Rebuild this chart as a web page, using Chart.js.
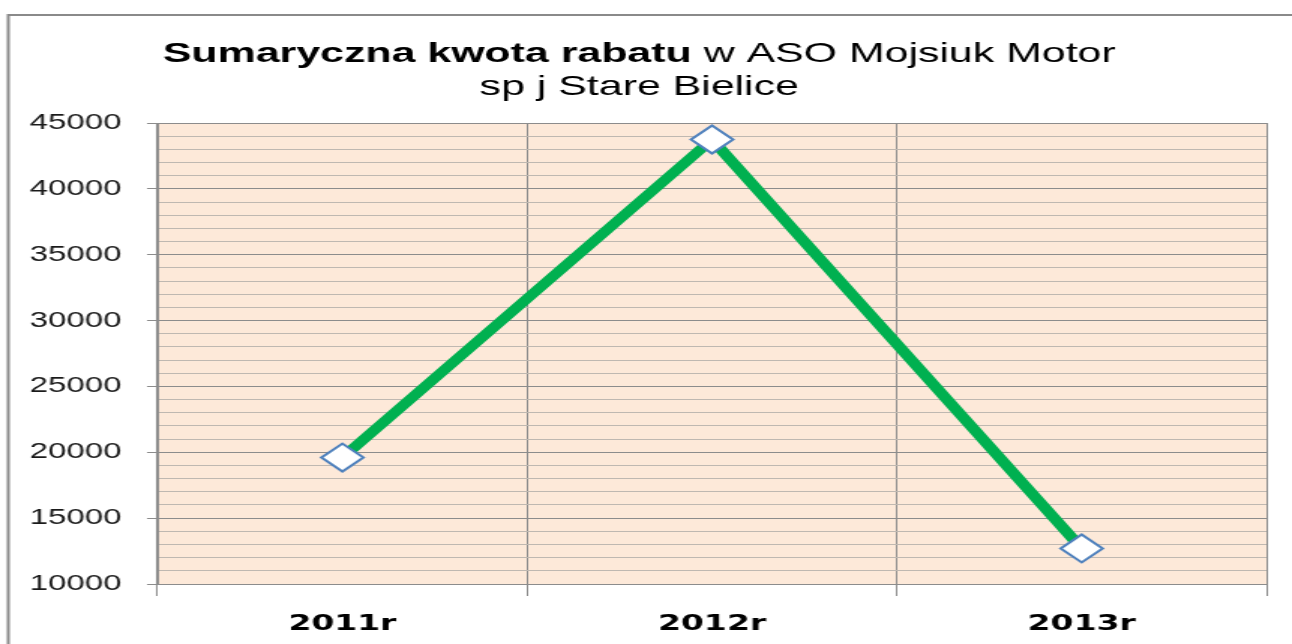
<!DOCTYPE html>
<html>
<head>
<meta charset="utf-8">
<script src="https://cdn.jsdelivr.net/npm/chart.js@4/dist/chart.umd.min.js"></script>
<style>
  html, body { margin: 0; padding: 0; background: #fff; overflow: hidden; }
  #wykres { display: block; }
</style>
</head>
<body>
<!-- obraz w oryginale jest rozciągnięty w poziomie, więc płótno też rozciągamy -->
<canvas id="wykres" width="861" height="644" style="width:1292px;height:644px"></canvas>
<script>
// dane
const lata = ['2011r', '2012r', '2013r'];
const rabat = [19600, 43750, 12700];
const osY = [10000, 45000];     // min, max
const krokGlowny = 5000;
const krokPomocniczy = 1000;
const tytulPogrubiony = 'Sumaryczna kwota rabatu';
const tytulReszta = ' w ASO Mojsiuk Motor';
const tytulLinia2 = 'sp j Stare Bielice';

// tło obszaru wykresu, ramka i dwuczęściowy tytuł
const tlo = {
  id: 'tlo',
  beforeDraw(chart) {
    const { ctx, chartArea: a } = chart;
    ctx.save();
    ctx.fillStyle = '#fff';
    ctx.fillRect(0, 0, chart.width, chart.height);
    ctx.fillStyle = '#fde9d9';
    ctx.fillRect(a.left, a.top, a.right - a.left, a.bottom - a.top);
    ctx.strokeStyle = '#8a8a8a';
    ctx.lineWidth = 2;
    ctx.beginPath();
    ctx.moveTo(5.5, chart.height);
    ctx.lineTo(5.5, 15);
    ctx.lineTo(chart.width, 15);
    ctx.stroke();
    ctx.restore();
  },
  afterDraw(chart) {
    const ctx = chart.ctx;
    ctx.save();
    ctx.fillStyle = '#000';
    ctx.textBaseline = 'alphabetic';
    ctx.font = 'bold 28px "Liberation Sans"';
    const wb = ctx.measureText(tytulPogrubiony).width;
    ctx.font = '28px "Liberation Sans"';
    const wr = ctx.measureText(tytulReszta).width;
    const sx = 635 / (wb + wr);
    ctx.translate(426, 0);
    ctx.scale(sx, 1);
    const x0 = -(wb + wr) / 2;
    ctx.textAlign = 'left';
    ctx.font = 'bold 28px "Liberation Sans"';
    ctx.fillText(tytulPogrubiony, x0, 62);
    ctx.font = '28px "Liberation Sans"';
    ctx.fillText(tytulReszta, x0 + wb, 62);
    ctx.textAlign = 'center';
    ctx.fillText(tytulLinia2, 0, 95);
    ctx.restore();
  }
};

const glowna = v => v % krokGlowny === 0;

new Chart(document.getElementById('wykres'), {
  type: 'line',
  data: {
    labels: lata,
    datasets: [{
      data: rabat,
      borderColor: '#00b050',
      borderWidth: 8.5,
      tension: 0,
      pointStyle: 'rectRot',
      pointRadius: 14,
      pointHoverRadius: 14,
      pointBorderColor: '#4f81bd',
      pointBackgroundColor: '#fff',
      pointBorderWidth: 2
    }]
  },
  options: {
    responsive: false,
    animation: false,
    devicePixelRatio: 1,
    layout: { padding: { top: 123, right: 17, left: 0, bottom: 0 } },
    plugins: {
      legend: { display: false },
      title: { display: false },
      tooltip: { enabled: false }
    },
    scales: {
      x: {
        offset: true,
        grid: { offset: true, color: '#8c8c8c', tickColor: '#8c8c8c', tickLength: 12, lineWidth: 1 },
        border: { color: '#8c8c8c', width: 1 },
        ticks: {
          color: '#000',
          font: { family: 'DejaVu Sans', weight: 'bold', size: 22 },
          padding: 15
        },
        afterFit(s) { s.height = 60; }
      },
      y: {
        min: osY[0],
        max: osY[1],
        ticks: {
          stepSize: krokPomocniczy,
          maxTicksLimit: 50,
          autoSkip: false,
          color: '#1a1a1a',
          font: { family: 'Liberation Sans', size: 22 },
          padding: 17,
          callback: v => glowna(v) ? v : ''
        },
        grid: {
          color: c => (c.tick && glowna(c.tick.value)) ? '#8c8c8c' : '#bfb8b1',
          tickColor: c => (c.tick && glowna(c.tick.value)) ? '#8c8c8c' : 'rgba(0,0,0,0)',
          tickLength: 7
        },
        border: { color: '#8c8c8c', width: 1 },
        afterFit(s) { s.width = 105; }
      }
    }
  },
  plugins: [tlo]
});
</script>
</body>
</html>
